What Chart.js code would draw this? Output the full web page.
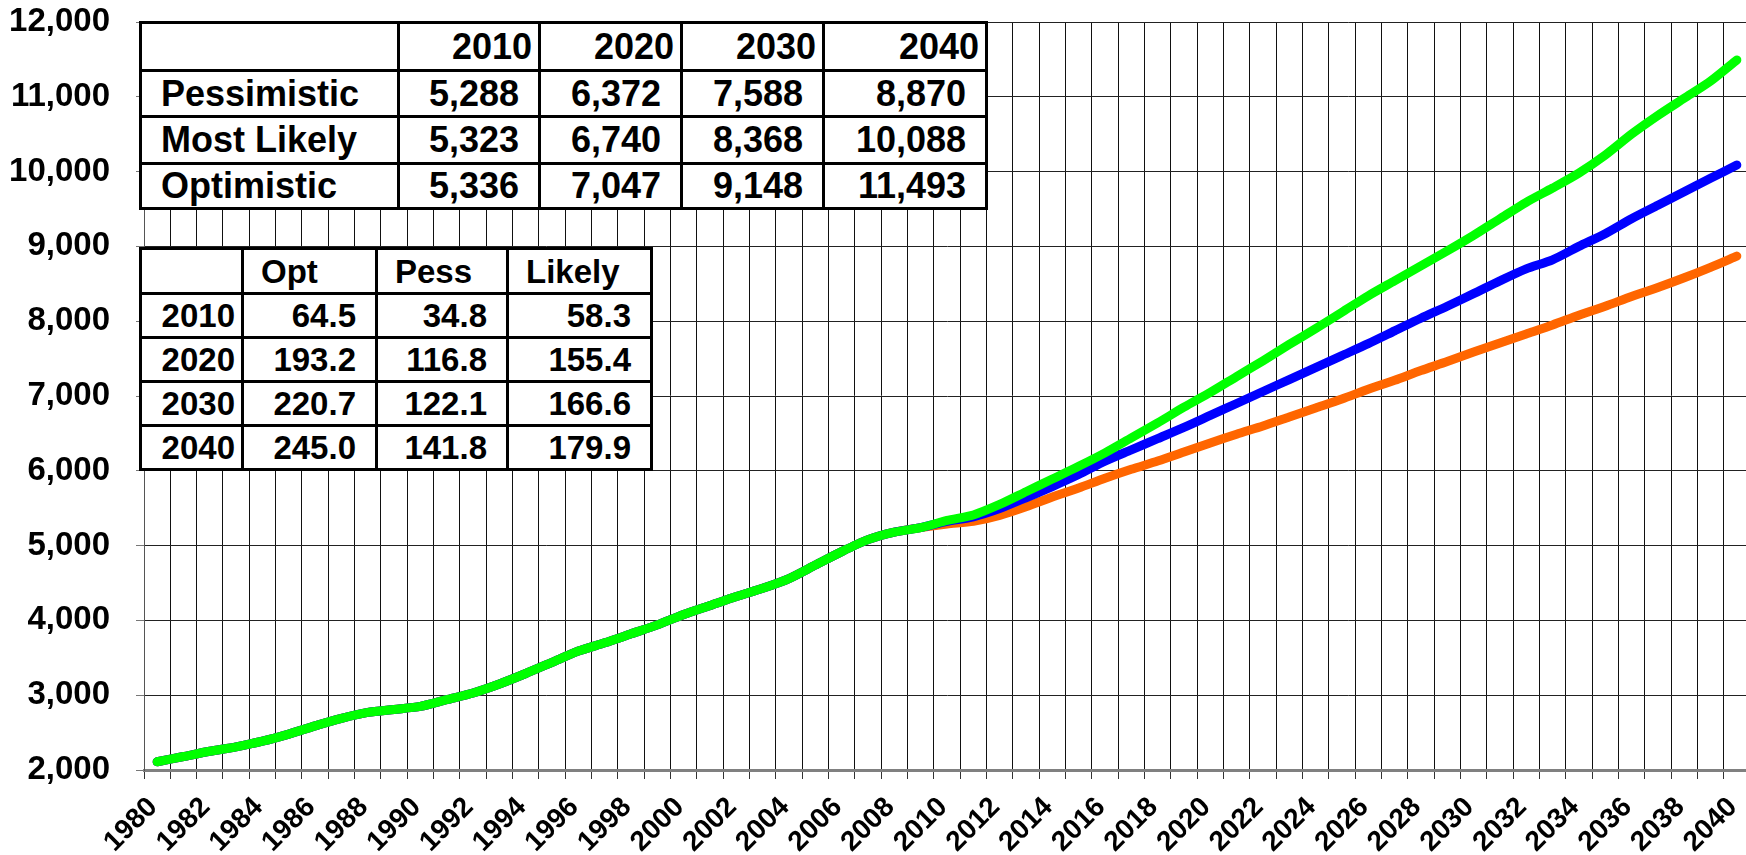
<!DOCTYPE html>
<html>
<head>
<meta charset="utf-8">
<script src="https://cdn.jsdelivr.net/npm/chart.js@4/dist/chart.umd.min.js"></script>
<style>
  body { margin: 0; background: #fff; overflow: hidden; }
  #wrap { position: relative; width: 1750px; height: 855px; }
  table {
    position: absolute; border-collapse: collapse; background: #fff; table-layout: fixed;
    font-family: "Liberation Sans", Arial, sans-serif; font-weight: bold; color: #000;
  }
  td { border: 3px solid #000; padding: 0; line-height: 1; white-space: nowrap; overflow: hidden; }
  #t1 { left: 139px; top: 21px; font-size: 36px; }
  #t2 { left: 139px; top: 247px; font-size: 33px; }
  .l { text-align: left; padding-left: 19px; }
  .r { text-align: right; padding-right: 19px; }
  .h { text-align: right; padding-right: 6px; }
</style>
</head>
<body>
<div id="wrap">
  <canvas id="grafik" width="1750" height="855"></canvas>
  <table id="t1"></table>
  <table id="t2"></table>
</div>
<script>
// kategori tahun
const years = [1980, 1981, 1982, 1983, 1984, 1985, 1986, 1987, 1988, 1989,
  1990, 1991, 1992, 1993, 1994, 1995, 1996, 1997, 1998, 1999,
  2000, 2001, 2002, 2003, 2004, 2005, 2006, 2007, 2008, 2009,
  2010, 2011, 2012, 2013, 2014, 2015, 2016, 2017, 2018, 2019,
  2020, 2021, 2022, 2023, 2024, 2025, 2026, 2027, 2028, 2029,
  2030, 2031, 2032, 2033, 2034, 2035, 2036, 2037, 2038, 2039, 2040];

// data historis 1980-2009 (sama untuk ketiga skenario)
const history = [2110, 2180, 2250, 2310, 2385, 2480, 2590, 2690, 2770, 2810,
  2850, 2940, 3030, 3150, 3290, 3440, 3590, 3700, 3820, 3940,
  4080, 4200, 4320, 4430, 4560, 4740, 4920, 5080, 5180, 5240];

// proyeksi 2010-2040
const optProj = [5336, 5410, 5550, 5720, 5890, 6060, 6240, 6440, 6640, 6850,
  7047, 7260, 7470, 7690, 7900, 8120, 8340, 8540, 8740, 8940,
  9148, 9370, 9590, 9780, 9980, 10220, 10500, 10750, 10980, 11210, 11493];
const likelyProj = [5323, 5385, 5495, 5640, 5790, 5950, 6130, 6280, 6430, 6580,
  6740, 6900, 7060, 7220, 7380, 7540, 7700, 7870, 8040, 8200,
  8368, 8540, 8700, 8820, 9000, 9170, 9370, 9550, 9730, 9910, 10088];
const pessProj = [5288, 5325, 5405, 5520, 5650, 5770, 5900, 6020, 6130, 6250,
  6372, 6490, 6600, 6720, 6840, 6960, 7090, 7210, 7340, 7460,
  7588, 7710, 7830, 7950, 8080, 8200, 8330, 8450, 8580, 8720, 8870];

// isi tabel
const tableYears = [2010, 2020, 2030, 2040];
const tablePess = ['5,288', '6,372', '7,588', '8,870'];
const tableLikely = ['5,323', '6,740', '8,368', '10,088'];
const tableOpt = ['5,336', '7,047', '9,148', '11,493'];
const growthHead = ['Opt', 'Pess', 'Likely'];
const growthOpt = ['64.5', '193.2', '220.7', '245.0'];
const growthPess = ['34.8', '116.8', '122.1', '141.8'];
const growthLikely = ['58.3', '155.4', '166.6', '179.9'];

const optimistic = history.concat(optProj);
const mostLikely = history.concat(likelyProj);
const pessimistic = history.concat(pessProj);

// tabel atas
const t1 = document.getElementById('t1');
let html = '<colgroup><col style="width:258px"><col style="width:141px"><col style="width:142px"><col style="width:142px"><col style="width:163px"></colgroup>';
html += '<tr style="height:48px"><td></td>' + tableYears.map(y => `<td class="h">${y}</td>`).join('') + '</tr>';
const rows1 = [['Pessimistic', tablePess, 46], ['Most Likely', tableLikely, 47], ['Optimistic', tableOpt, 45]];
rows1.forEach(r => {
  html += `<tr style="height:${r[2]}px"><td class="l">${r[0]}</td>` + r[1].map(v => `<td class="r">${v}</td>`).join('') + '</tr>';
});
t1.innerHTML = html;

// tabel bawah
const t2 = document.getElementById('t2');
html = '<colgroup><col style="width:102px"><col style="width:134px"><col style="width:131px"><col style="width:144px"></colgroup>';
html += '<tr style="height:45px"><td></td>' + growthHead.map(h => `<td class="l" style="padding-left:17px">${h}</td>`).join('') + '</tr>';
tableYears.forEach((y, i) => {
  html += `<tr style="height:44px"><td class="h">${y}</td><td class="r">${growthOpt[i]}</td><td class="r">${growthPess[i]}</td><td class="r">${growthLikely[i]}</td></tr>`;
});
t2.innerHTML = html;

const fontTick = { family: '"Liberation Sans", Arial, sans-serif', weight: 'bold' };

new Chart(document.getElementById('grafik').getContext('2d'), {
  type: 'line',
  data: {
    labels: years,
    datasets: [
      { label: 'Optimistic', data: optimistic, borderColor: '#00ff00' },
      { label: 'Most Likely', data: mostLikely, borderColor: '#0000ff' },
      { label: 'Pessimistic', data: pessimistic, borderColor: '#ff6600' }
    ]
  },
  options: {
    responsive: false,
    animation: false,
    layout: { padding: { top: 22, right: 0, left: 0, bottom: 0 } },
    elements: {
      point: { radius: 0 },
      line: { borderWidth: 9, tension: 0.25, borderCapStyle: 'round', borderJoinStyle: 'round', fill: false }
    },
    plugins: { legend: { display: false }, tooltip: { enabled: false } },
    scales: {
      x: {
        offset: true,
        grid: { offset: true, color: '#111', lineWidth: 1, tickLength: 9, tickColor: '#333' },
        border: { color: '#808080', width: 3 },
        ticks: {
          autoSkip: false, maxRotation: 45, minRotation: 45,
          padding: 12, labelOffset: -4, color: '#000',
          font: Object.assign({ size: 28 }, fontTick),
          callback: (v, i) => (years[i] % 2 === 0 ? String(years[i]) : '')
        },
        afterFit: s => { s.height = 85; s.paddingLeft = 0; s.paddingRight = 0; }
      },
      y: {
        min: 2000, max: 12000,
        grid: { color: '#222', lineWidth: 1, tickLength: 8, tickColor: '#777' },
        border: { color: '#555', width: 1 },
        ticks: {
          stepSize: 1000, padding: 26, color: '#000',
          font: Object.assign({ size: 33 }, fontTick),
          callback: v => v.toLocaleString('en-US')
        },
        afterFit: s => { s.width = 144; s.paddingTop = 0; s.paddingBottom = 0; }
      }
    }
  }
});
</script>
</body>
</html>
